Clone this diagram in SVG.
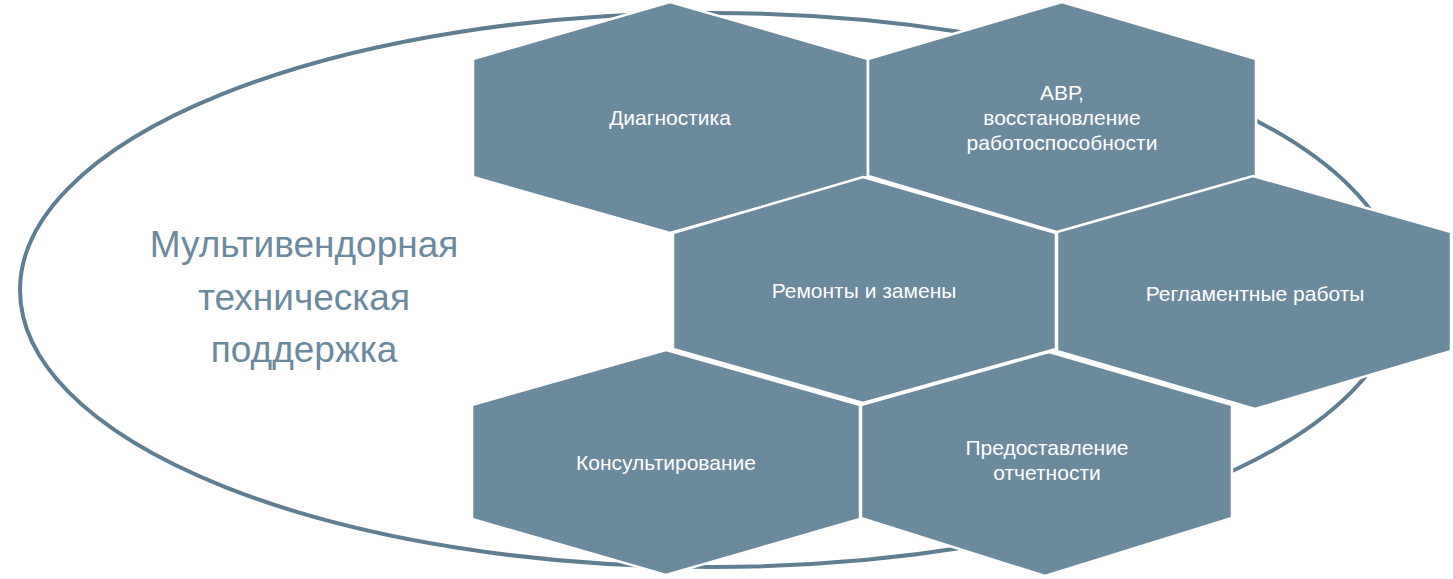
<svg xmlns="http://www.w3.org/2000/svg" width="1453" height="579" viewBox="0 0 1453 579">
<style>
.hex{fill:#6c8a9d;stroke:#ffffff;stroke-width:2.5}
.t{font-family:"Liberation Sans",Arial,sans-serif;font-size:21px;fill:#ffffff;text-anchor:middle}
.big{font-family:"Liberation Sans",Arial,sans-serif;font-size:37px;fill:#6c8a9d;text-anchor:middle}
</style>
<rect width="1453" height="579" fill="#ffffff"/>
<g id="connectors"></g>
<g id="ellipse"><ellipse cx="710" cy="290" rx="690" ry="277" fill="none" stroke="#5f7e92" stroke-width="4"/></g>
<g id="title">
<text class="big" x="304" y="257">Мультивендорная</text>
<text class="big" x="304" y="310">техническая</text>
<text class="big" x="304" y="362">поддержка</text>
</g>
<g id="n1"><polygon class="hex" points="670,2 868,59 868,177 670,233 473,177 473,59"/><text class="t" x="670" y="125">Диагностика</text></g>
<g id="n2"><polygon class="hex" points="1062,2 1256,59 1256,176 1060,233 868,176 868,59"/><text class="t" x="1062" y="100">АВР,</text><text class="t" x="1062" y="125">восстановление</text><text class="t" x="1062" y="150">работоспособности</text></g>
<g id="n3"><polygon class="hex" points="863,177 1056,233 1056,349 863,403 673,349 673,233"/><text class="t" x="864" y="298">Ремонты и замены</text></g>
<g id="n4"><polygon class="hex" points="1253,176 1451,232 1451,351 1255,409 1057,351 1057,232"/><text class="t" x="1255" y="301">Регламентные работы</text></g>
<g id="n5"><polygon class="hex" points="666,350 860,405 860,519 666,575 472,519 472,405"/><text class="t" x="666" y="470">Консультирование</text></g>
<g id="n6"><polygon class="hex" points="1049,352 1232,405 1232,518 1045,576 861,518 861,405"/><text class="t" x="1047" y="455">Предоставление</text><text class="t" x="1047" y="480">отчетности</text></g>
</svg>
